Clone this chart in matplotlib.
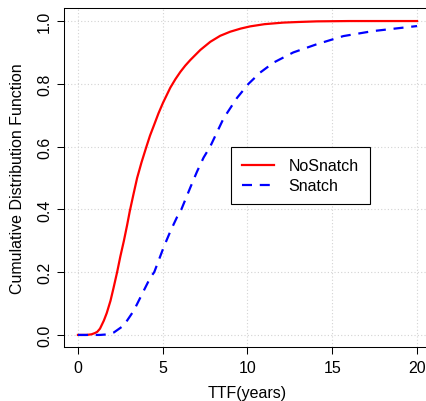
import matplotlib
matplotlib.use("Agg")
import matplotlib.pyplot as plt

plt.rcParams['font.family'] = ['Liberation Sans', 'DejaVu Sans']

# values
nosnatch_x = [0, 0.5, 0.8, 1.0, 1.14, 1.3, 1.53, 1.7, 1.92, 2.1, 2.31, 2.5, 2.71, 2.9,
              3.06, 3.27, 3.49, 3.75, 4.04, 4.25, 4.47, 4.75, 5.02, 5.45, 5.75, 6.04,
              6.33, 6.63, 7.22, 7.81, 8.39, 8.98, 9.6, 10.16, 11.0, 12.1, 13.0, 14.1,
              16, 20]
nosnatch_y = [0, 0, 0.002, 0.006, 0.01, 0.02, 0.046, 0.07, 0.109, 0.15, 0.20, 0.25,
              0.30, 0.35, 0.395, 0.447, 0.50, 0.55, 0.60, 0.635, 0.666, 0.706, 0.74,
              0.788, 0.815, 0.838, 0.858, 0.876, 0.908, 0.934, 0.953, 0.966, 0.976,
              0.983, 0.99, 0.995, 0.997, 0.999, 1.0, 1.0]

snatch_x = [0, 1.3, 1.8, 2.12, 2.7, 3.29, 3.78, 4.27, 4.5, 5.06, 5.45, 5.84, 6.1,
            6.63, 7.02, 7.41, 7.8, 8.59, 9.38, 10.06, 10.75, 11.55, 12.7, 14.08,
            15.65, 17.4, 20]
snatch_y = [0, 0, 0.002, 0.008, 0.03, 0.077, 0.13, 0.183, 0.20, 0.28, 0.33, 0.375, 0.40,
            0.47, 0.52, 0.565, 0.60, 0.69, 0.755, 0.80, 0.836, 0.868, 0.90, 0.926,
            0.952, 0.968, 0.984]

xticks = [0, 5, 10, 15, 20]
yticks = [0.0, 0.2, 0.4, 0.6, 0.8, 1.0]

fig = plt.figure(figsize=(4.27, 4.02), dpi=100)
ax = fig.add_axes([0.1508, 0.1331, 0.8576, 0.8433])

# grid, light grey dotted
for xv in xticks:
    ax.axvline(xv, color='#d3d3d3', lw=0.8, ls=(0, (1, 2)), zorder=0)
for yv in yticks:
    ax.axhline(yv, color='#d3d3d3', lw=0.8, ls=(0, (1, 2)), zorder=0)

ax.plot(nosnatch_x, nosnatch_y, color='red', lw=1.6, label='NoSnatch')
ax.plot(snatch_x, snatch_y, color='blue', lw=1.6, dashes=(4.5, 3.5), label='Snatch')

ax.set_xlim(-0.8, 20.8)
ax.set_ylim(-0.04, 1.04)
ax.set_xticks(xticks)
ax.set_xticklabels([str(v) for v in xticks])
ax.set_yticks(yticks)
ax.set_yticklabels(['%.1f' % v for v in yticks], rotation=90, va='center')
ax.tick_params(direction='out', length=5, width=0.75, labelsize=11.5, pad=4)

for s in ax.spines.values():
    s.set_linewidth(0.75)
ax.spines['right'].set_visible(False)

ax.set_xlabel('TTF(years)', fontsize=11.5, va='center')
ax.xaxis.set_label_coords(0.5, -0.133)
ax.set_ylabel('Cumulative Distribution Function', fontsize=11.5, va='center')
ax.yaxis.set_label_coords(-0.129, 0.5)

leg = ax.legend(loc='upper left', bbox_to_anchor=(0.455, 0.591), fontsize=11.5,
                frameon=True, fancybox=False, edgecolor='black', framealpha=1,
                handlelength=2.0, handletextpad=0.9, labelspacing=0.3,
                borderpad=0.7, borderaxespad=0)
leg.get_frame().set_linewidth(0.8)

fig.savefig('out.png', dpi=100)
